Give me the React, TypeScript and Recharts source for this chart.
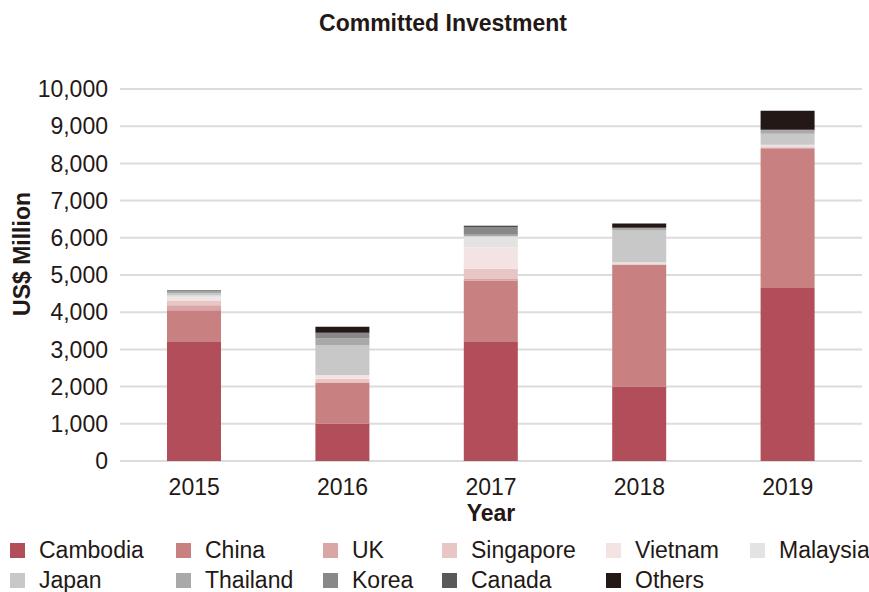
import { BarChart, Bar, XAxis, YAxis, CartesianGrid } from "recharts";

const years = ["2015", "2016", "2017", "2018", "2019"];

const countries = [
  "Cambodia",
  "China",
  "UK",
  "Singapore",
  "Vietnam",
  "Malaysia",
  "Japan",
  "Thailand",
  "Korea",
  "Canada",
  "Others",
];

const colors = [
  "#b24d5a",
  "#c98080",
  "#d9a5a5",
  "#e8c6c6",
  "#f3e3e3",
  "#e3e3e3",
  "#c8c8c9",
  "#a9a9a9",
  "#888888",
  "#595959",
  "#231815",
];

// US$ million, one list per country, in year order
const cambodia = [3200, 1000, 3200, 2000, 4650];
const china = [850, 1110, 1650, 3280, 3740];
const uk = [135, 0, 45, 0, 30];
const singapore = [115, 100, 270, 0, 35];
const vietnam = [90, 105, 575, 0, 0];
const malaysia = [62, 0, 285, 63, 45];
const japan = [62, 805, 25, 850, 295];
const thailand = [36, 170, 30, 80, 110];
const korea = [36, 160, 215, 0, 0];
const canada = [10, 0, 0, 0, 0];
const others = [0, 160, 27, 110, 510];

const series = [cambodia, china, uk, singapore, vietnam, malaysia, japan, thailand, korea, canada, others];

const yTicks = [0, 1000, 2000, 3000, 4000, 5000, 6000, 7000, 8000, 9000, 10000];

const data = years.map((year, i) => {
  const row: Record<string, string | number> = { year };
  countries.forEach((c, k) => {
    row[c] = series[k][i];
  });
  return row;
});

const legendCols = [10, 176, 323, 442, 606, 750];
const font = "'Liberation Sans', Arial, sans-serif";
const ink = "#231815";

export default function App() {
  return (
    <div
      style={{
        position: "absolute",
        left: 0,
        top: 0,
        width: 869,
        height: 592,
        background: "#fff",
        fontFamily: font,
        color: ink,
      }}
    >
      <div
        style={{
          position: "absolute",
          top: 10,
          left: 0,
          width: 886,
          textAlign: "center",
          fontWeight: "bold",
          fontSize: 23,
        }}
      >
        Committed Investment
      </div>
      <div
        style={{
          position: "absolute",
          left: 22,
          top: 254,
          transform: "translate(-50%, -50%) rotate(-90deg)",
          fontWeight: "bold",
          fontSize: 23,
          whiteSpace: "nowrap",
        }}
      >
        US$ Million
      </div>
      <div
        style={{
          position: "absolute",
          top: 500,
          left: 120,
          width: 742,
          textAlign: "center",
          fontWeight: "bold",
          fontSize: 23,
        }}
      >
        Year
      </div>
      <BarChart
        width={869}
        height={592}
        data={data}
        margin={{ top: 89, right: 7, bottom: 91, left: 0 }}
        barCategoryGap={47}
      >
        <CartesianGrid vertical={false} stroke="#dcdcdc" strokeWidth={2} />
        <XAxis
          dataKey="year"
          height={40}
          axisLine={false}
          tickLine={false}
          tickSize={0}
          tickMargin={18}
          tick={{ fill: ink, fontSize: 23, fontFamily: font }}
        />
        <YAxis
          width={120}
          domain={[0, 10000]}
          ticks={yTicks}
          axisLine={false}
          tickLine={false}
          tickSize={0}
          tickMargin={12}
          tickFormatter={(v: number) => v.toLocaleString("en-US")}
          tick={{ fill: ink, fontSize: 23, fontFamily: font }}
        />
        {countries.map((c, k) => (
          <Bar key={c} dataKey={c} stackId="a" fill={colors[k]} isAnimationActive={false} />
        ))}
      </BarChart>
      {countries.map((c, k) => {
        const row = Math.floor(k / 6);
        const col = k % 6;
        return (
          <div
            key={c}
            style={{
              position: "absolute",
              left: legendCols[col],
              top: 539 + row * 30,
              height: 22,
              lineHeight: "22px",
              display: "flex",
              alignItems: "center",
              fontSize: 23,
              whiteSpace: "nowrap",
            }}
          >
            <span
              style={{
                display: "inline-block",
                width: 15,
                height: 15,
                background: colors[k],
                marginRight: 14,
              }}
            />
            {c}
          </div>
        );
      })}
    </div>
  );
}
